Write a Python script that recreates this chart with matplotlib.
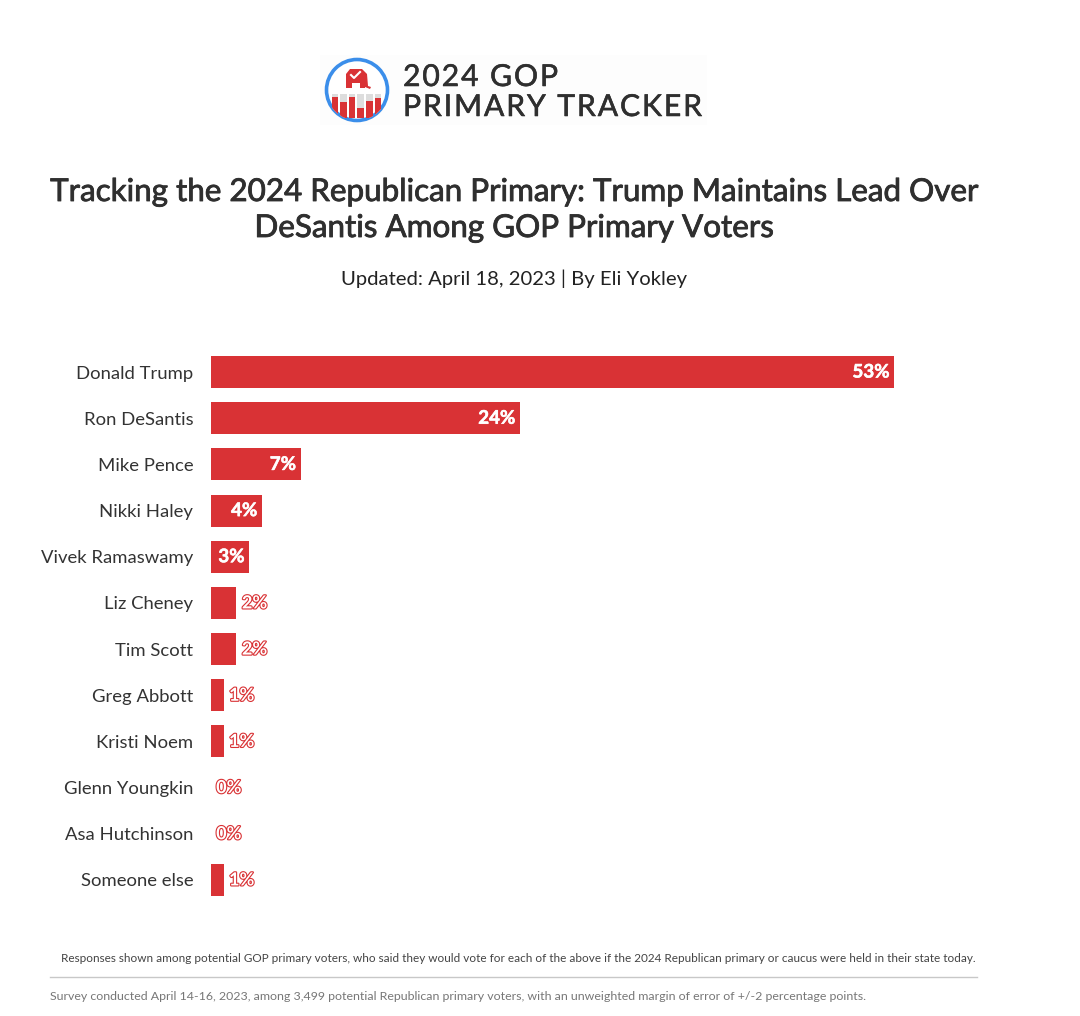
import matplotlib
matplotlib.use("Agg")
import matplotlib.pyplot as plt
import matplotlib.patheffects as pe
from matplotlib.patches import Circle, Rectangle, Polygon

candidates = ["Donald Trump", "Ron DeSantis", "Mike Pence", "Nikki Haley", "Vivek Ramaswamy", "Liz Cheney",
              "Tim Scott", "Greg Abbott", "Kristi Noem", "Glenn Youngkin", "Asa Hutchinson", "Someone else"]
support = [53, 24, 7, 4, 3, 2, 2, 1, 1, 0, 0, 1]

RED = "#d93235"
DARK = "#2f2f2f"
W, H = 1080, 1016
HAIR = "\u200a"

plt.rcParams['font.family'] = ['Lato', 'DejaVu Sans']

fig = plt.figure(figsize=(W / 100, H / 100), dpi=100)

# overlay in pixel coordinates for the header, footer and logo
bg = fig.add_axes([0, 0, 1, 1])
bg.set_xlim(0, W)
bg.set_ylim(H, 0)
bg.axis("off")

# --- logo ---
bg.add_patch(Rectangle((320, 55), 387, 70, color="#fdfdfd", lw=0))
badge = Circle((357, 90), 30.5, facecolor="white", edgecolor="#3b8eea", lw=2.6, zorder=2)
bg.add_patch(badge)
logo_heights = [21, 16, 21, 10, 17, 20]
for i, h in enumerate(logo_heights):
    x = 331.5 + i * 8.6
    back = Rectangle((x, 94), 6.7, 24, facecolor="#dddddd", lw=0, zorder=3)
    front = Rectangle((x, 94 + 24 - h), 6.7, h, facecolor=RED, lw=0, zorder=4)
    bg.add_patch(back)
    bg.add_patch(front)
    back.set_clip_path(badge)
    front.set_clip_path(badge)
# elephant
bg.add_patch(Polygon([(346, 88), (346, 74), (350, 69), (362, 69), (367, 74), (368, 86), (371, 87), (370, 89),
                      (365, 87), (365, 88), (360, 88), (360, 83), (352, 83), (352, 88)],
                     closed=True, facecolor=RED, lw=0, zorder=5))
bg.plot([351, 354, 360], [75, 78, 72], color="white", lw=1.5, zorder=6)
logo_stroke = [pe.withStroke(linewidth=0.4, foreground=DARK)]
bg.text(403, 77, HAIR.join("2024 GOP"), fontsize=21.7, color=DARK, va="center", ha="left", path_effects=logo_stroke)
bg.text(403, 107, HAIR.join("PRIMARY TRACKER"), fontsize=21.7, color=DARK, va="center", ha="left",
        path_effects=logo_stroke)

# --- title ---
title_stroke = [pe.withStroke(linewidth=0.6, foreground=DARK)]
bg.text(514, 192, "Tracking the 2024 Republican Primary: Trump Maintains Lead Over", fontsize=22.6, color=DARK,
        ha="center", va="center", path_effects=title_stroke)
bg.text(514, 228, "DeSantis Among GOP Primary Voters", fontsize=22.6, color=DARK,
        ha="center", va="center", path_effects=title_stroke)
bg.text(514, 279, "Updated: April 18, 2023 | By Eli Yokley", fontsize=14.6, color="#222222", ha="center", va="center")

# --- footer ---
bg.text(61, 958, "Responses shown among potential GOP primary voters, who said they would vote for each of the above "
                 "if the 2024 Republican primary or caucus were held in their state today.",
        fontsize=8.47, color="#444444", ha="left", va="center")
bg.plot([50, 977], [976.5, 976.5], color="#c8c8c8", lw=1)
bg.text(50, 996, "Survey conducted April 14-16, 2023, among 3,499 potential Republican primary voters, "
                 "with an unweighted margin of error of +/-2 percentage points.",
        fontsize=8.95, color="#777777", ha="left", va="center")

# --- bars ---
ax = fig.add_axes([210.6 / W, 1 - 903 / H, 774 / W, 554 / H])
ax.patch.set_alpha(0)
ypos = list(range(len(candidates)))
ax.barh(ypos, support, height=0.69, color=RED, linewidth=0)
ax.set_xlim(0, 60)
ax.set_ylim(len(candidates) - 0.5, -0.5)
ax.set_yticks(ypos, candidates)
ax.tick_params(axis="y", length=0, pad=12.5, labelsize=13.3, labelcolor="#333333")
ax.xaxis.set_visible(False)
for s in ax.spines.values():
    s.set_visible(False)

for y, v in zip(ypos, support):
    if v >= 3:
        txt = ax.annotate(f"{v}%", (v, y), xytext=(-3.5, 0), textcoords="offset points", ha="right", va="center",
                          color="white", fontsize=13.5, fontweight="bold")
        txt.set_path_effects([pe.withStroke(linewidth=0.4, foreground="white")])
    else:
        txt = ax.annotate(f"{v}%", (v, y), xytext=(4, 0), textcoords="offset points", ha="left", va="center",
                          color="white", fontsize=13, fontweight="bold")
        txt.set_path_effects([pe.withStroke(linewidth=1.6, foreground=RED)])

fig.savefig("out.png", dpi=100, facecolor="white")
